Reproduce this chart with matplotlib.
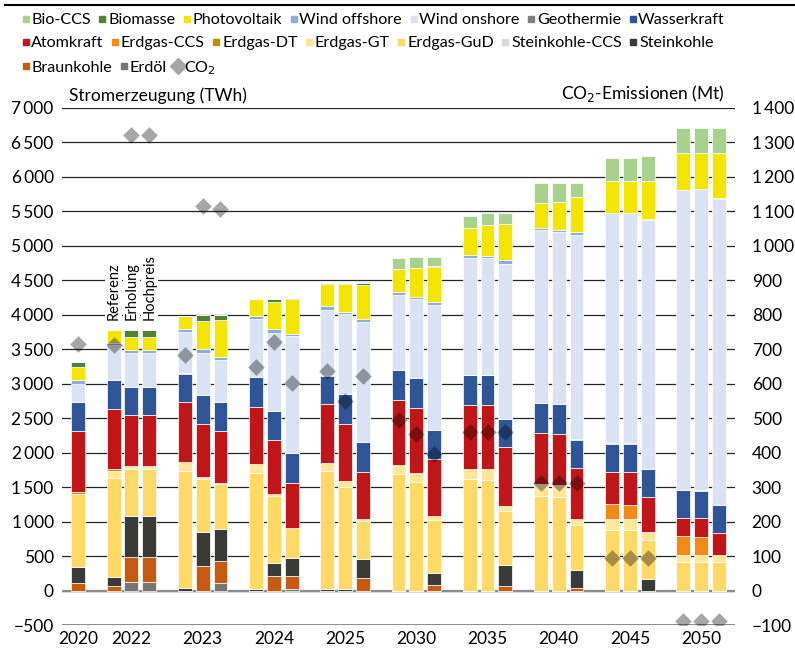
import matplotlib
matplotlib.use("Agg")
import matplotlib.pyplot as plt
from matplotlib.lines import Line2D
from matplotlib.ticker import FuncFormatter, MultipleLocator

plt.rcParams["font.family"] = ["Lato", "DejaVu Sans"]

# bar order: 2020, then Referenz / Erholung / Hochpreis for each later year
years = ["2020", "2022", "2023", "2024", "2025", "2030", "2035", "2040", "2045", "2050"]
scenarios = ["Referenz", "Erholung", "Hochpreis"]

erdoel = [0, 0, 131, 131, 0, 0, 106, 0, 0, 15, 0, 0, 0, 0, 0, 0, 0, 0, 0, 0, 0, 0, 0, 0, 0, 0, 0, 0]
braunkohle = [110, 65, 362, 362, 0, 358, 324, 0, 208, 195, 0, 0, 179, 0, 0, 80, 0, 0, 68, 0, 0, 32, 0, 0, 0, 0, 0, 0]
steinkohle = [229, 129, 595, 595, 44, 498, 469, 24, 190, 261, 15, 15, 275, 0, 0, 172, 0, 0, 297, 0, 0, 261, 0, 0, 170, 0, 0, 0]
steinkohle_ccs = [0] * 28
erdgas_gud = [1059, 1436, 677, 677, 1697, 759, 648, 1688, 977, 435, 1721, 1494, 561, 1692, 1581, 764,
              1618, 1604, 783, 1377, 1362, 657, 885, 885, 560, 420, 420, 420]
erdgas_gt = [0, 106, 48, 48, 130, 39, 20, 130, 24, 0, 116, 87, 20, 131, 121, 58,
             145, 154, 82, 164, 169, 82, 150, 150, 125, 90, 90, 100]
erdgas_dt = [29, 24, 0, 0, 0, 0, 0, 0, 0, 0, 0, 0, 0, 0, 0, 0, 0, 0, 0, 0, 0, 0, 0, 0, 0, 0, 0, 0]
erdgas_ccs = [0, 0, 0, 0, 0, 0, 0, 0, 0, 0, 0, 0, 0, 0, 0, 0, 0, 0, 0, 0, 0, 0, 225, 210, 0, 285, 270, 0]
atomkraft = [885, 875, 730, 730, 861, 759, 744, 827, 779, 658, 851, 826, 691, 947, 952, 832,
             932, 937, 845, 748, 744, 739, 460, 475, 505, 255, 270, 310]
wasserkraft = [416, 416, 406, 406, 416, 420, 421, 425, 425, 425, 416, 426, 426, 426, 426, 421,
               425, 425, 411, 425, 425, 420, 405, 405, 400, 405, 395, 405]
geothermie = [8] * 28
wind_onshore = [263, 509, 486, 486, 601, 611, 611, 834, 1129, 1694, 949, 1152, 1737, 1085, 1138, 1800,
                1701, 1692, 2242, 2504, 2494, 2962, 3337, 3337, 3607, 4347, 4367, 4437]
wind_offshore = [53, 30, 43, 43, 43, 53, 43, 48, 48, 34, 48, 34, 44, 48, 29, 53,
                 39, 39, 54, 29, 34, 34, 0, 0, 15, 0, 0, 15]
photovoltaik = [193, 180, 189, 189, 189, 406, 532, 247, 396, 498, 324, 401, 488, 324, 425, 503,
                396, 440, 521, 362, 396, 512, 465, 465, 555, 535, 525, 650]
biomasse = [73, 0, 106, 106, 0, 92, 77, 0, 44, 24, 15, 20, 29, 0, 0, 19,
            0, 0, 0, 0, 0, 0, 0, 0, 0, 0, 0, 0]
bio_ccs = [0, 0, 0, 0, 0, 0, 0, 0, 0, 0, 0, 0, 12, 159, 155, 126,
           174, 173, 164, 290, 275, 203, 345, 345, 365, 360, 360, 360]
co2 = [716, 711, 1322, 1322, 682, 1117, 1108, 648, 722, 603, 637, 549, 621, 496, 455, 397,
       461, 461, 461, 312, 312, 312, 95, 95, 95, -87, -87, -87]

# stacked from bottom to top
stack = [
    ("Erdöl", erdoel, "#787474"),
    ("Braunkohle", braunkohle, "#C55A11"),
    ("Steinkohle", steinkohle, "#3A3A38"),
    ("Steinkohle-CCS", steinkohle_ccs, "#D9D9D9"),
    ("Erdgas-GuD", erdgas_gud, "#FFD966"),
    ("Erdgas-GT", erdgas_gt, "#FFE699"),
    ("Erdgas-DT", erdgas_dt, "#BF9000"),
    ("Erdgas-CCS", erdgas_ccs, "#F28A1A"),
    ("Atomkraft", atomkraft, "#C0161A"),
    ("Wasserkraft", wasserkraft, "#2F5597"),
    ("Geothermie", geothermie, "#7F7F7F"),
    ("Wind onshore", wind_onshore, "#DAE3F3"),
    ("Wind offshore", wind_offshore, "#8FAADC"),
    ("Photovoltaik", photovoltaik, "#F2E600"),
    ("Biomasse", biomasse, "#548235"),
    ("Bio-CCS", bio_ccs, "#A9D18E"),
]

# x slots: 2020 single bar, then groups of three with one empty slot between
x = [0] + [3 + 4 * g + d for g in range(9) for d in (-1, 0, 1)]
year_pos = [0] + [3 + 4 * g for g in range(9)]

fig = plt.figure(figsize=(7.95, 6.53), dpi=100)
ax = fig.add_axes([62 / 795, 1 - 625 / 653, (735 - 62) / 795, (625 - 108) / 653])
ax2 = ax.twinx()

bottom = [0] * 28
for name, vals, col in stack:
    ax.bar(x, vals, width=0.78, bottom=bottom, color=col, edgecolor="white", linewidth=0.5, zorder=3)
    bottom = [b + v for b, v in zip(bottom, vals)]

ax.set_xlim(-0.9, 36.9)
ax.set_ylim(-500, 7000)
ax.yaxis.set_major_locator(MultipleLocator(500))
ax.grid(axis="y", color="#262626", linewidth=0.9, zorder=0)
ax.axhline(0, color="#8C8C8C", linewidth=1.6, zorder=2)
ax.axhline(-500, color="#8C8C8C", linewidth=1.4, zorder=2)

fmt = lambda v, p: f"{v:,.0f}".replace(",", "\u2009").replace("-", "\u2212")
ax.yaxis.set_major_formatter(FuncFormatter(fmt))
ax.set_xticks(year_pos)
ax.set_xticklabels(years)
for s in ax.spines.values():
    s.set_visible(False)
ax.tick_params(length=0, labelsize=12.5, colors="black", pad=6)
ax.tick_params(axis="x", pad=4)

ax2.set_ylim(-100, 1400)
ax2.yaxis.set_major_locator(MultipleLocator(100))
ax2.yaxis.set_major_formatter(FuncFormatter(fmt))
for s in ax2.spines.values():
    s.set_visible(False)
ax2.tick_params(length=0, labelsize=12.5, pad=12)
ax2.scatter(x, co2, marker="D", s=72, color="black", alpha=0.35, linewidths=0, zorder=5)

ax.text(0.01, 1.008, "Stromerzeugung (TWh)", transform=ax.transAxes, fontsize=12.5,
        ha="left", va="bottom")
ax.text(0.985, 1.008, "CO$_2$-Emissionen (Mt)", transform=ax.transAxes, fontsize=12.5,
        ha="right", va="bottom")

for xi, lab in zip(x[1:4], scenarios):
    ax.text(xi, 3930, lab, rotation=90, ha="center", va="bottom", fontsize=10.5, zorder=6,
            bbox=dict(facecolor="white", edgecolor="none", pad=1.0))

# legend in three flowing rows
def handle(name, col):
    return Line2D([], [], linestyle="none", marker="s", markersize=4.5, color=col)

legend_items = [(n, c) for n, _, c in stack[::-1]]
rows = [legend_items[:7], legend_items[7:14], legend_items[14:]]
row_y = [1 - 13 / 653, 1 - 36 / 653, 1 - 59 / 653]
for r, (items, yy) in enumerate(zip(rows, row_y)):
    hs = [handle(n, c) for n, c in items]
    ls = [n for n, c in items]
    if r == 2:
        hs.append(Line2D([], [], linestyle="none", marker="D", markersize=8, color="#A6A6A6"))
        ls.append("CO$_2$")
    leg = fig.legend(hs, ls, loc="upper left", bbox_to_anchor=(22 / 795, yy), ncol=len(hs),
                     frameon=False, fontsize=11.6, handlelength=0.45, handletextpad=0.12,
                     columnspacing=0.5, borderpad=0, borderaxespad=0)

fig.add_artist(Line2D([5 / 795, 1], [1 - 5 / 653, 1 - 5 / 653], color="black", linewidth=1.5))

fig.savefig("out.png", dpi=100)
